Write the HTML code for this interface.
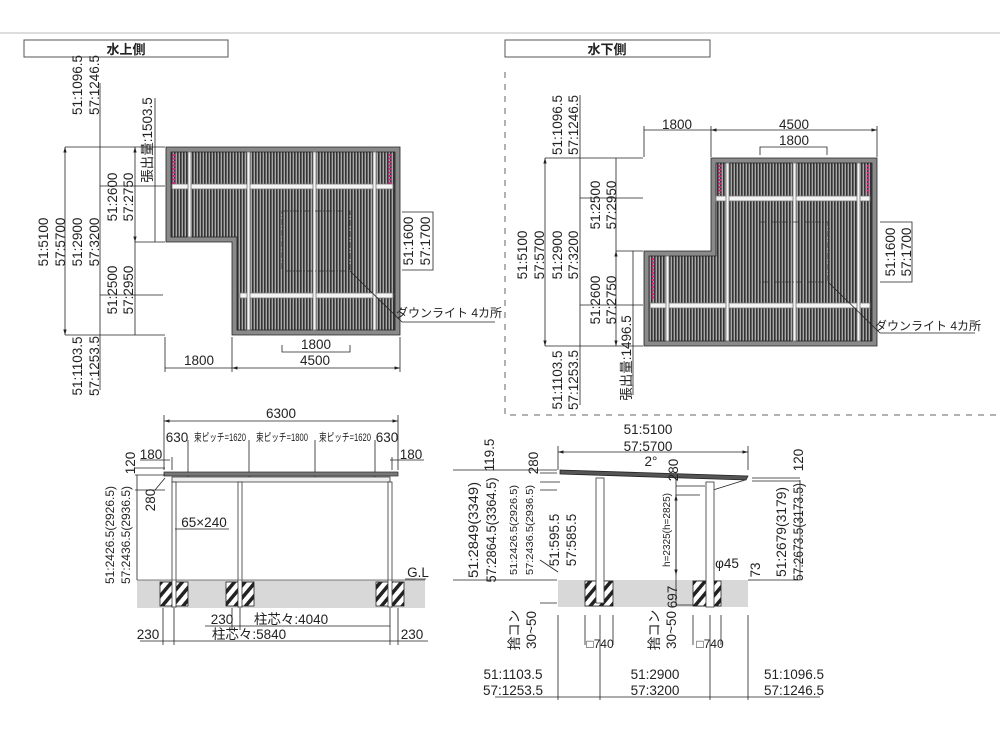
<!DOCTYPE html>
<html><head><meta charset="utf-8"><style>
body{margin:0;background:#fff}
svg{display:block}
text{font-family:"Liberation Sans","Noto Sans CJK JP",sans-serif;fill:#222}
</style></head><body>
<svg width="1000" height="750" viewBox="0 0 1000 750" xmlns="http://www.w3.org/2000/svg">
<defs>
<pattern id="st" width="3" height="10" patternUnits="userSpaceOnUse">
<rect width="3" height="10" fill="#a8a8a8"/><rect width="1.6" height="10" fill="#333"/>
</pattern>
<pattern id="ht" width="8" height="8" patternUnits="userSpaceOnUse" patternTransform="rotate(40)">
<rect width="8" height="8" fill="#fff"/><rect width="3.5" height="8" fill="#222"/>
</pattern>
<marker id="a" viewBox="0 0 10 10" refX="10" refY="5" markerWidth="7" markerHeight="7" orient="auto-start-reverse"><path d="M0,2 L10,5 L0,8z" fill="#222"/></marker>
</defs>
<line x1="0" y1="33" x2="1000" y2="33" stroke="#bbb"/>
<rect x="24" y="40" width="204" height="17" fill="#fff" stroke="#555"/>
<text x="126" y="54" font-size="13" font-weight="bold" text-anchor="middle">水上側</text>
<rect x="505" y="40" width="205" height="17" fill="#fff" stroke="#555"/>
<text x="607" y="54" font-size="13" font-weight="bold" text-anchor="middle">水下側</text>
<path d="M505 72 V415 H1000" fill="none" stroke="#666" stroke-dasharray="6 6"/>

<g stroke="#222" stroke-width="0.8" fill="none">
<polygon points="166,147 400,147 400,335 232,335 232,242 166,242" fill="#8a8a8a"/>
<polygon points="171,152 395,152 395,330 237,330 237,237 171,237" fill="url(#st)"/>
<rect x="172" y="184" width="221" height="5" fill="#f4f4f4" stroke="#777"/>
<rect x="240" y="293" width="153" height="5" fill="#f4f4f4" stroke="#777"/>
<g fill="#f4f4f4" stroke="#777"><rect x="188" y="152" width="3" height="85"/><rect x="247" y="152" width="3" height="178"/><rect x="313" y="152" width="3" height="178"/><rect x="373" y="152" width="3" height="178"/></g>
<line x1="174" y1="154" x2="174" y2="184" stroke="#e0208a" stroke-width="2.5" stroke-dasharray="2 1.5"/>
<line x1="390" y1="154" x2="390" y2="184" stroke="#e0208a" stroke-width="2.5" stroke-dasharray="2 1.5"/>
<rect x="282" y="211" width="68" height="60" stroke="#333" stroke-dasharray="6 2 1 2"/>
<polyline points="350,271 402,322 495,322"/>
<line x1="65" y1="147" x2="65" y2="335" marker-start="url(#a)" marker-end="url(#a)"/>
<line x1="100" y1="83" x2="100" y2="390"/>
<line x1="135" y1="147" x2="135" y2="242" marker-start="url(#a)" marker-end="url(#a)"/>
<line x1="135" y1="242" x2="135" y2="335"/>
<line x1="155" y1="98" x2="155" y2="242"/>
<line x1="65" y1="147" x2="165" y2="147"/><line x1="65" y1="335" x2="165" y2="335"/>
<line x1="100" y1="186" x2="165" y2="186"/><line x1="100" y1="295" x2="163" y2="295"/>
<line x1="135" y1="242" x2="165" y2="242"/>
<line x1="165" y1="337" x2="165" y2="372"/><line x1="232" y1="337" x2="232" y2="372"/><line x1="400" y1="337" x2="400" y2="372"/>
<line x1="165" y1="368" x2="232" y2="368"/>
<line x1="232" y1="368" x2="400" y2="368" marker-start="url(#a)" marker-end="url(#a)"/>
<polyline points="282,345 282,352 350,352 350,345"/>
<polyline points="402,212 433,212 433,270 402,270"/>

<polygon points="711,158 877,158 877,346 644,346 644,251 711,251" fill="#8a8a8a"/>
<polygon points="716,163 872,163 872,341 649,341 649,256 716,256" fill="url(#st)"/>
<rect x="716" y="196" width="154" height="5" fill="#f4f4f4" stroke="#777"/>
<rect x="650" y="303" width="220" height="5" fill="#f4f4f4" stroke="#777"/>
<g fill="#f4f4f4" stroke="#777"><rect x="666" y="256" width="3" height="85"/><rect x="726" y="163" width="3" height="178"/><rect x="793" y="163" width="3" height="178"/><rect x="857" y="163" width="3" height="178"/></g>
<line x1="720" y1="165" x2="720" y2="194" stroke="#e0208a" stroke-width="2.5" stroke-dasharray="2 1.5"/>
<line x1="868" y1="165" x2="868" y2="194" stroke="#e0208a" stroke-width="2.5" stroke-dasharray="2 1.5"/>
<line x1="653" y1="258" x2="653" y2="300" stroke="#e0208a" stroke-width="2.5" stroke-dasharray="2 1.5"/>
<rect x="760" y="222" width="68" height="60" stroke="#333" stroke-dasharray="6 2 1 2"/>
<polyline points="828,282 880,333 975,333"/>
<line x1="644" y1="130" x2="711" y2="130"/>
<line x1="711" y1="130" x2="877" y2="130" marker-start="url(#a)" marker-end="url(#a)"/>
<line x1="644" y1="126" x2="644" y2="157"/><line x1="711" y1="126" x2="711" y2="157"/><line x1="877" y1="126" x2="877" y2="157"/>
<polyline points="760,155 760,147 827,147 827,155"/>
<line x1="545" y1="158" x2="545" y2="346" marker-start="url(#a)" marker-end="url(#a)"/>
<line x1="580" y1="95" x2="580" y2="405"/>
<line x1="616" y1="158" x2="616" y2="251"/>
<line x1="616" y1="251" x2="616" y2="346" marker-start="url(#a)" marker-end="url(#a)"/>
<line x1="633" y1="251" x2="633" y2="395"/>
<line x1="545" y1="158" x2="643" y2="158"/><line x1="545" y1="346" x2="643" y2="346"/>
<line x1="580" y1="198" x2="643" y2="198"/><line x1="580" y1="305" x2="643" y2="305"/>
<line x1="616" y1="251" x2="643" y2="251"/>
<polyline points="880,222 912,222 912,282 880,282"/>

<rect x="137" y="580" width="288" height="28" fill="#d8d8d8" stroke="none"/>
<rect x="160" y="582" width="28" height="24" fill="url(#ht)"/>
<rect x="226" y="582" width="28" height="24" fill="url(#ht)"/>
<rect x="376" y="582" width="28" height="24" fill="url(#ht)"/>
<line x1="164" y1="421" x2="398" y2="421" marker-start="url(#a)" marker-end="url(#a)"/>
<g><line x1="164" y1="415" x2="164" y2="470"/><line x1="398" y1="415" x2="398" y2="470"/>
<line x1="188" y1="440" x2="188" y2="480"/><line x1="249" y1="440" x2="249" y2="480"/><line x1="315" y1="440" x2="315" y2="480"/><line x1="375" y1="440" x2="375" y2="480"/>
<line x1="140" y1="460" x2="170" y2="460"/><line x1="390" y1="460" x2="424" y2="460"/>
<line x1="172" y1="457" x2="172" y2="470"/><line x1="392" y1="457" x2="392" y2="470"/></g>
<path d="M164 472 H398 V476 H164z" fill="#777" stroke="#333"/>
<path d="M172 477 H390 V482 H172z" fill="#eee" stroke="#333"/>
<g fill="#fff" stroke="#333"><rect x="172" y="482" width="4" height="125"/><rect x="238" y="482" width="4" height="125"/><rect x="388" y="482" width="4" height="125"/></g>
<line x1="137" y1="580" x2="425" y2="580" stroke="#555"/>
<line x1="405" y1="579" x2="426" y2="579"/>
<line x1="135" y1="468" x2="165" y2="468"/><line x1="135" y1="475" x2="165" y2="475"/><line x1="135" y1="490" x2="165" y2="490"/>
<line x1="137" y1="475" x2="137" y2="580"/>
<line x1="155" y1="490" x2="165" y2="478"/>
<line x1="175" y1="529" x2="229" y2="529"/>
<line x1="163" y1="608" x2="163" y2="645"/><line x1="174" y1="608" x2="174" y2="645"/>
<line x1="232" y1="608" x2="232" y2="630"/><line x1="240" y1="608" x2="240" y2="630"/>
<line x1="390" y1="608" x2="390" y2="645"/><line x1="398" y1="608" x2="398" y2="645"/>
<line x1="205" y1="626" x2="390" y2="626"/>
<line x1="140" y1="641" x2="428" y2="641"/>

<rect x="558" y="580" width="190" height="27" fill="#d8d8d8" stroke="none"/>
<rect x="585" y="581" width="28" height="25" fill="url(#ht)"/>
<rect x="693" y="581" width="28" height="25" fill="url(#ht)"/>
<line x1="558" y1="452" x2="748" y2="452" marker-start="url(#a)" marker-end="url(#a)"/>
<line x1="558" y1="446" x2="558" y2="470"/><line x1="748" y1="446" x2="748" y2="470"/>
<path d="M560 470 L748 476 L746 480 L560 474z" fill="#555" stroke="#222"/>
<line x1="713" y1="490" x2="745" y2="480"/>
<g fill="#fff" stroke="#333"><rect x="596" y="478" width="8" height="125"/><rect x="706" y="482" width="8" height="125"/></g>
<line x1="540" y1="470" x2="557" y2="470"/><line x1="540" y1="473" x2="557" y2="473"/>
<line x1="540" y1="482" x2="560" y2="482"/><line x1="540" y1="490" x2="557" y2="490"/>
<line x1="540" y1="580" x2="557" y2="580"/><line x1="540" y1="603" x2="557" y2="603"/>
<line x1="540" y1="560" x2="558" y2="572"/>
<line x1="453" y1="470" x2="540" y2="470"/><line x1="453" y1="580" x2="540" y2="580"/>
<line x1="676" y1="478" x2="676" y2="605"/>
<line x1="676" y1="495" x2="676" y2="575" marker-start="url(#a)" marker-end="url(#a)"/>
<line x1="676" y1="486" x2="705" y2="486"/><line x1="676" y1="495" x2="700" y2="495"/>
<line x1="676" y1="605" x2="693" y2="605"/>
<line x1="752" y1="478" x2="800" y2="478"/><line x1="752" y1="481" x2="800" y2="481"/>
<line x1="760" y1="580" x2="800" y2="580"/>
<line x1="800" y1="480" x2="800" y2="580"/>
<line x1="748" y1="580" x2="760" y2="580"/>
<line x1="558" y1="615" x2="558" y2="700"/><line x1="748" y1="615" x2="748" y2="700"/>
<line x1="585" y1="615" x2="585" y2="645"/><line x1="613" y1="615" x2="613" y2="645"/>
<line x1="693" y1="615" x2="693" y2="645"/><line x1="721" y1="615" x2="721" y2="645"/>
<line x1="600" y1="615" x2="600" y2="700"/><line x1="710" y1="615" x2="710" y2="700"/>
<line x1="495" y1="697" x2="820" y2="697"/>
</g>

<g font-size="13.5" text-anchor="middle">
<text transform="translate(82,85) rotate(-90)">51:1096.5</text>
<text transform="translate(99,85) rotate(-90)">57:1246.5</text>
<text transform="translate(48,242) rotate(-90)">51:5100</text>
<text transform="translate(65,242) rotate(-90)">57:5700</text>
<text transform="translate(82,242) rotate(-90)">51:2900</text>
<text transform="translate(99,242) rotate(-90)">57:3200</text>
<text transform="translate(117,197) rotate(-90)">51:2600</text>
<text transform="translate(133,197) rotate(-90)">57:2750</text>
<text transform="translate(117,290) rotate(-90)">51:2500</text>
<text transform="translate(133,290) rotate(-90)">57:2950</text>
<text transform="translate(82,366) rotate(-90)">51:1103.5</text>
<text transform="translate(99,366) rotate(-90)">57:1253.5</text>
<text transform="translate(152,140) rotate(-90)">張出量:1503.5</text>
<text transform="translate(413,241) rotate(-90)">51:1600</text>
<text transform="translate(430,241) rotate(-90)">57:1700</text>
<text x="199" y="365">1800</text><text x="315" y="365">4500</text><text x="316" y="349">1800</text>
<text x="449" y="317" font-size="12">ダウンライト 4カ所</text>

<text x="677" y="129">1800</text><text x="794" y="129">4500</text><text x="794" y="145">1800</text>
<text transform="translate(562,125) rotate(-90)">51:1096.5</text>
<text transform="translate(578,125) rotate(-90)">57:1246.5</text>
<text transform="translate(527,255) rotate(-90)">51:5100</text>
<text transform="translate(544,255) rotate(-90)">57:5700</text>
<text transform="translate(562,255) rotate(-90)">51:2900</text>
<text transform="translate(578,255) rotate(-90)">57:3200</text>
<text transform="translate(600,205) rotate(-90)">51:2500</text>
<text transform="translate(616,205) rotate(-90)">57:2950</text>
<text transform="translate(600,300) rotate(-90)">51:2600</text>
<text transform="translate(616,300) rotate(-90)">57:2750</text>
<text transform="translate(562,380) rotate(-90)">51:1103.5</text>
<text transform="translate(578,380) rotate(-90)">57:1253.5</text>
<text transform="translate(631,358) rotate(-90)">張出量:1496.5</text>
<text transform="translate(895,252) rotate(-90)">51:1600</text>
<text transform="translate(911,252) rotate(-90)">57:1700</text>
<text x="928" y="330" font-size="12">ダウンライト 4カ所</text>

<text x="281" y="418">6300</text>
<text x="177" y="442">630</text><text x="387" y="442">630</text>
<text x="220" y="441" font-size="11" textLength="52" lengthAdjust="spacingAndGlyphs">束ピッチ=1620</text>
<text x="282" y="441" font-size="11" textLength="52" lengthAdjust="spacingAndGlyphs">束ピッチ=1800</text>
<text x="345" y="441" font-size="11" textLength="52" lengthAdjust="spacingAndGlyphs">束ピッチ=1620</text>
<text x="151" y="459">180</text><text x="411" y="459">180</text>
<text transform="translate(135,463) rotate(-90)">120</text>
<text transform="translate(155,500) rotate(-90)">280</text>
<text transform="translate(114,535) rotate(-90)" font-size="12">51:2426.5(2926.5)</text>
<text transform="translate(130,535) rotate(-90)" font-size="12">57:2436.5(2936.5)</text>
<text x="204" y="527">65×240</text>
<text x="418" y="577">G.L</text>
<text x="222" y="624">230</text><text x="291" y="624">柱芯々:4040</text>
<text x="148" y="639">230</text><text x="249" y="639">柱芯々:5840</text><text x="412" y="639">230</text>

<text x="648" y="434">51:5100</text><text x="648" y="451">57:5700</text>
<text x="651" y="466">2°</text>
<text transform="translate(494,455) rotate(-90)">119.5</text>
<text transform="translate(538,463) rotate(-90)">280</text>
<text transform="translate(678,470) rotate(-90)">280</text>
<text transform="translate(478,530) rotate(-90)" textLength="96" lengthAdjust="spacingAndGlyphs">51:2849(3349)</text>
<text transform="translate(496,530) rotate(-90)" textLength="105" lengthAdjust="spacingAndGlyphs">57:2864.5(3364.5)</text>
<text transform="translate(517,530) rotate(-90)" font-size="10.5" textLength="90" lengthAdjust="spacingAndGlyphs">51:2426.5(2926.5)</text>
<text transform="translate(533,530) rotate(-90)" font-size="10.5" textLength="90" lengthAdjust="spacingAndGlyphs">57:2436.5(2936.5)</text>
<text transform="translate(559,540) rotate(-90)">51:595.5</text>
<text transform="translate(576,540) rotate(-90)">57:585.5</text>
<text transform="translate(670,530) rotate(-90)" font-size="10">h=2325(h=2825)</text>
<text x="727" y="568">φ45</text>
<text transform="translate(760,570) rotate(-90)">73</text>
<text transform="translate(677,597) rotate(-90)">697</text>
<text transform="translate(803,460) rotate(-90)">120</text>
<text transform="translate(786,532) rotate(-90)" textLength="90" lengthAdjust="spacingAndGlyphs">51:2679(3179)</text>
<text transform="translate(803,532) rotate(-90)" textLength="98" lengthAdjust="spacingAndGlyphs">57:2673.5(3173.5)</text>
<text transform="translate(519,630) rotate(-90)">捨コン</text>
<text transform="translate(536,630) rotate(-90)">30~50</text>
<text transform="translate(659,630) rotate(-90)">捨コン</text>
<text transform="translate(676,630) rotate(-90)">30~50</text>
<text x="600" y="648" font-size="12">□740</text><text x="710" y="648" font-size="12">□740</text>
<text x="513" y="679">51:1103.5</text><text x="513" y="695">57:1253.5</text>
<text x="655" y="679">51:2900</text><text x="655" y="695">57:3200</text>
<text x="794" y="679">51:1096.5</text><text x="794" y="695">57:1246.5</text>
</g>
</svg>
</body></html>
